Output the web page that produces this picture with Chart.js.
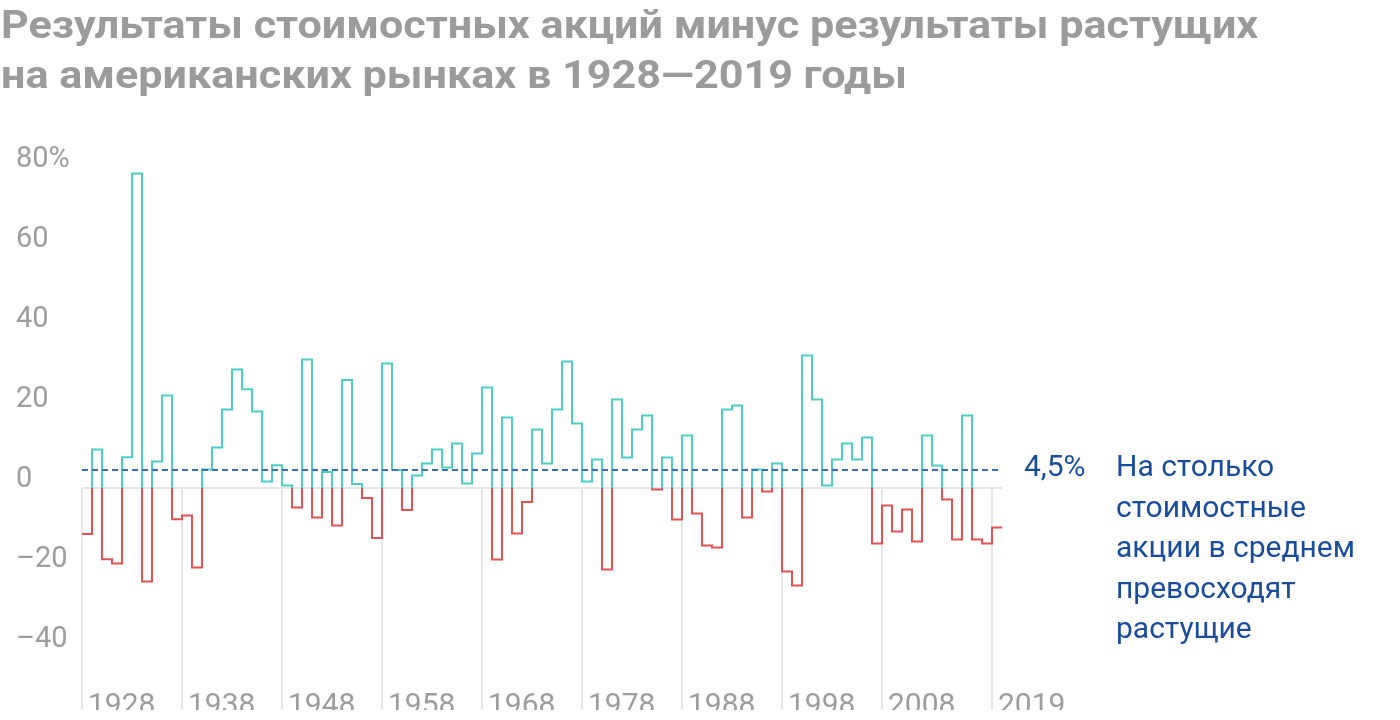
<!DOCTYPE html>
<html lang="ru">
<head>
<meta charset="utf-8">
<script src="https://cdn.jsdelivr.net/npm/chart.js@4/dist/chart.umd.min.js"></script>
<style>
  html, body { margin: 0; padding: 0; background: #fff; overflow: hidden; }
  body { width: 1400px; height: 720px; position: relative; font-family: Roboto, "Noto Sans", sans-serif; }
  #title {
    position: absolute; left: 1px; top: 0;
    font-size: 38px; font-weight: bold; line-height: 50px; color: #9b9b9b;
    white-space: nowrap; transform: scaleX(1.135); transform-origin: 0 0;
  }
  #wrap { position: absolute; left: 0; top: 0; width: 1400px; height: 710px; }
  .note { position: absolute; color: #1a4c9c; font-size: 30px; line-height: 40.5px; white-space: nowrap; }
</style>
</head>
<body>
<div id="wrap"><canvas id="chart" width="1400" height="710"></canvas></div>
<div id="title">Результаты стоимостных акций минус результаты растущих<br>на американских рынках в 1928—2019 годы</div>
<div class="note" id="avgLabel">4,5%</div>
<div class="note" id="avgText">На столько<br>стоимостные<br>акции в среднем<br>превосходят<br>растущие</div>
<script>
// value minus growth, % per year, 1928..2019
const firstYear = 1928;
const diffs = [
  -11.5, 9.6, -17.8, -18.9, 7.7, 78.6, -23.4, 6.6, 23.1, -7.8,
  -6.9, -19.9, 4.6, 10.1, 19.6, 29.6, 24.7, 19.1, 1.6, 5.7,
  0.6, -4.9, 32.1, -7.4, 4.0, -9.4, 27.0, 1.0, -2.5, -12.5,
  31.1, 4.5, -5.5, 3.1, 6.1, 9.6, 5.1, 11.1, 1.1, 8.6,
  25.1, -17.9, 17.6, -11.4, -3.5, 14.6, 6.1, 19.6, 31.6, 16.1,
  1.6, 7.1, -20.4, 22.1, 7.6, 14.6, 18.1, -0.4, 7.6, -7.9,
  13.1, -6.4, -14.4, -14.9, 19.6, 20.6, -7.4, 4.6, -0.9, 6.1,
  -20.9, -24.4, 33.1, 22.1, 0.6, 7.1, 11.1, 7.1, 12.6, -13.9,
  -4.4, -10.9, -5.4, -13.4, 13.1, 5.6, -2.9, -12.9, 18.1, -12.9,
  -13.9, -9.9
];
const years = diffs.map((_, i) => firstYear + i);
const average = 4.5;
const xTickYears = [1928, 1938, 1948, 1958, 1968, 1978, 1988, 1998, 2008, 2019];
const yTicks = [-40, -20, 0, 20, 40, 60, 80];

const teal = '#4ecdc4';
const red = '#e25353';
const gridColor = '#e6e6e6';
const tickColor = '#9d9d9d';

// step line: each year holds its value until the next year
const stepData = years.map((yr, i) => ({ x: yr, y: diffs[i] }));
const lastX = years[years.length - 1] + 1;
stepData.push({ x: lastX, y: diffs[diffs.length - 1] });

function signColor(context) {
  const chart = context.chart;
  const area = chart.chartArea;
  if (!area) return teal;
  const z = chart.scales.y.getPixelForValue(0);
  const g = chart.ctx.createLinearGradient(0, area.top, 0, area.bottom);
  const s = Math.min(1, Math.max(0, (z - area.top) / (area.bottom - area.top)));
  g.addColorStop(0, teal);
  g.addColorStop(s, teal);
  g.addColorStop(s, red);
  g.addColorStop(1, red);
  return g;
}

const yearLines = {
  id: 'yearLines',
  beforeDatasetsDraw(chart) {
    const { ctx, scales: { x, y } } = chart;
    const y0 = y.getPixelForValue(0);
    ctx.save();
    ctx.strokeStyle = gridColor;
    ctx.lineWidth = 2;
    xTickYears.forEach(yr => {
      const px = Math.round(x.getPixelForValue(yr));
      ctx.beginPath();
      ctx.moveTo(px, y0);
      ctx.lineTo(px, chart.height);
      ctx.stroke();
    });
    ctx.restore();
  },
  afterDraw(chart) {
    const { x, y } = chart.scales;
    const py = y.getPixelForValue(average);
    const px = x.getPixelForValue(lastX);
    const a = document.getElementById('avgLabel');
    const t = document.getElementById('avgText');
    a.style.top = (py - 24) + 'px';
    a.style.left = (px + 22) + 'px';
    t.style.top = (py - 24) + 'px';
    t.style.left = (px + 114) + 'px';
  }
};

new Chart(document.getElementById('chart'), {
  type: 'line',
  data: {
    datasets: [
      {
        data: [{ x: firstYear, y: average }, { x: lastX, y: average }],
        borderColor: '#3a6fb6',
        borderWidth: 2,
        borderDash: [6, 4],
        pointRadius: 0,
        order: 0
      },
      {
        data: stepData,
        stepped: true,
        borderColor: signColor,
        borderWidth: 2,
        borderJoinStyle: 'miter',
        borderCapStyle: 'butt',
        pointRadius: 0,
        fill: false,
        order: 1
      }
    ]
  },
  options: {
    responsive: false,
    animation: false,
    events: [],
    layout: { padding: { left: 16, right: 398, top: 160, bottom: 0 } },
    plugins: { legend: { display: false }, tooltip: { enabled: false } },
    scales: {
      x: {
        type: 'linear',
        min: firstYear,
        max: lastX,
        afterBuildTicks: s => { s.ticks = xTickYears.map(v => ({ value: v })); },
        afterFit: s => { s.height = 30; },
        grid: { display: false },
        border: { display: false },
        ticks: {
          align: 'start',
          labelOffset: 6,
          padding: 0,
          maxRotation: 0,
          autoSkip: false,
          color: tickColor,
          font: { family: 'Roboto', size: 30 },
          callback: v => String(v)
        }
      },
      y: {
        min: -48,
        max: 82,
        afterBuildTicks: s => { s.ticks = yTicks.map(v => ({ value: v })); },
        afterFit: s => { s.width = 66; },
        grid: {
          color: c => (c.tick && c.tick.value === 0 ? gridColor : 'rgba(0,0,0,0)'),
          lineWidth: 2,
          drawTicks: false
        },
        border: { display: false },
        ticks: {
          crossAlign: 'far',
          labelOffset: -8,
          padding: 0,
          color: tickColor,
          font: { family: 'Roboto', size: 29 },
          callback: v => (v === 80 ? '80%' : v < 0 ? '–' + Math.abs(v) : String(v))
        }
      }
    }
  },
  plugins: [yearLines]
});
</script>
</body>
</html>
